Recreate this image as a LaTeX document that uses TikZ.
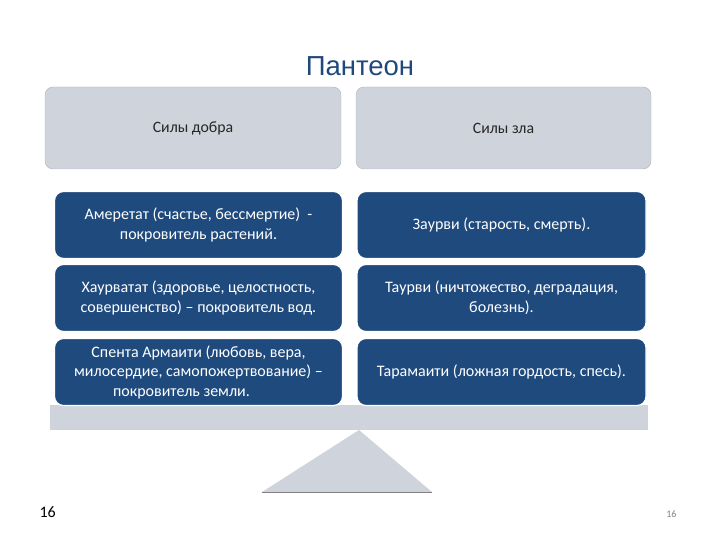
\documentclass[tikz,border=0pt]{standalone}
\usepackage{fontspec}
\setmainfont{Carlito}
\newfontfamily\titlefont{Liberation Sans}
\definecolor{darkbox}{RGB}{31,74,126}
\definecolor{lightbox}{RGB}{207,212,220}
\definecolor{titleblue}{RGB}{31,73,125}
\begin{document}
\begin{tikzpicture}[x=1pt,y=-1pt,
  headbox/.style={draw=lightbox!85!black, line width=0.4pt, fill=lightbox, rounded corners=8pt, inner sep=0pt},
  itembox/.style={draw=white, line width=1.2pt, fill=darkbox, rounded corners=9pt, text=white, align=center, font=\fontsize{16}{19.5}\selectfont, inner sep=0pt},
  headtext/.style={font=\fontsize{15.8}{18}\selectfont, text=black!85}]
\useasboundingbox (0,0) rectangle (720,540);
\node[font=\titlefont\fontsize{27.5}{32}\selectfont, text=titleblue] (title) at (360,66) {Пантеон};
% header boxes
\node[headbox, minimum width=296pt, minimum height=82pt] (hl) at (193,128) {};
\node[headtext] (hlt) at (193,128) {Силы добра};
\node[headbox, minimum width=295pt, minimum height=82pt] (hr) at (503.5,128) {};
\node[headtext] (hrt) at (503.5,128) {Силы зла};
% beam and fulcrum
\node[fill=lightbox, draw=none, minimum width=598pt, minimum height=25pt, inner sep=0pt] (beam) at (349,417.5) {};
\coordinate (apex) at (359,430);
\coordinate (bl) at (262,492);
\coordinate (br) at (432,492);
\fill[lightbox] (apex) -- (br) -- (bl) -- cycle;
\draw[gray, line width=0.8pt] (bl) -- (br);
% item boxes left
\node[itembox, minimum width=288pt, minimum height=67pt] (l1) at (198.5,225) {Амеретат (счастье, бессмертие)\ \ -\\покровитель растений.};
\node[itembox, minimum width=288pt, minimum height=67pt] (l2) at (198.5,298) {Хаурватат (здоровье, целостность,\\совершенство) -- покровитель вод.};
\node[itembox, minimum width=288pt, minimum height=67pt] (l3) at (198.5,372) {Спента Армаити (любовь, вера,\\милосердие, самопожертвование) --\\покровитель земли.\hspace*{34pt}};
% item boxes right
\node[itembox, minimum width=289pt, minimum height=67pt] (r1) at (501.5,225) {Заурви (старость, смерть).};
\node[itembox, minimum width=289pt, minimum height=67pt] (r2) at (501.5,298) {Таурви (ничтожество, деградация,\\болезнь).};
\node[itembox, minimum width=289pt, minimum height=67pt] (r3) at (501.5,372) {Тарамаити (ложная гордость, спесь).};
% page numbers
\node[font=\fontsize{16}{19}\selectfont, anchor=west] (n1) at (36,512) {16};
\node[font=\fontsize{10}{12}\selectfont, text=gray, anchor=east] (n2) at (680,514) {16};
\end{tikzpicture}
\end{document}
